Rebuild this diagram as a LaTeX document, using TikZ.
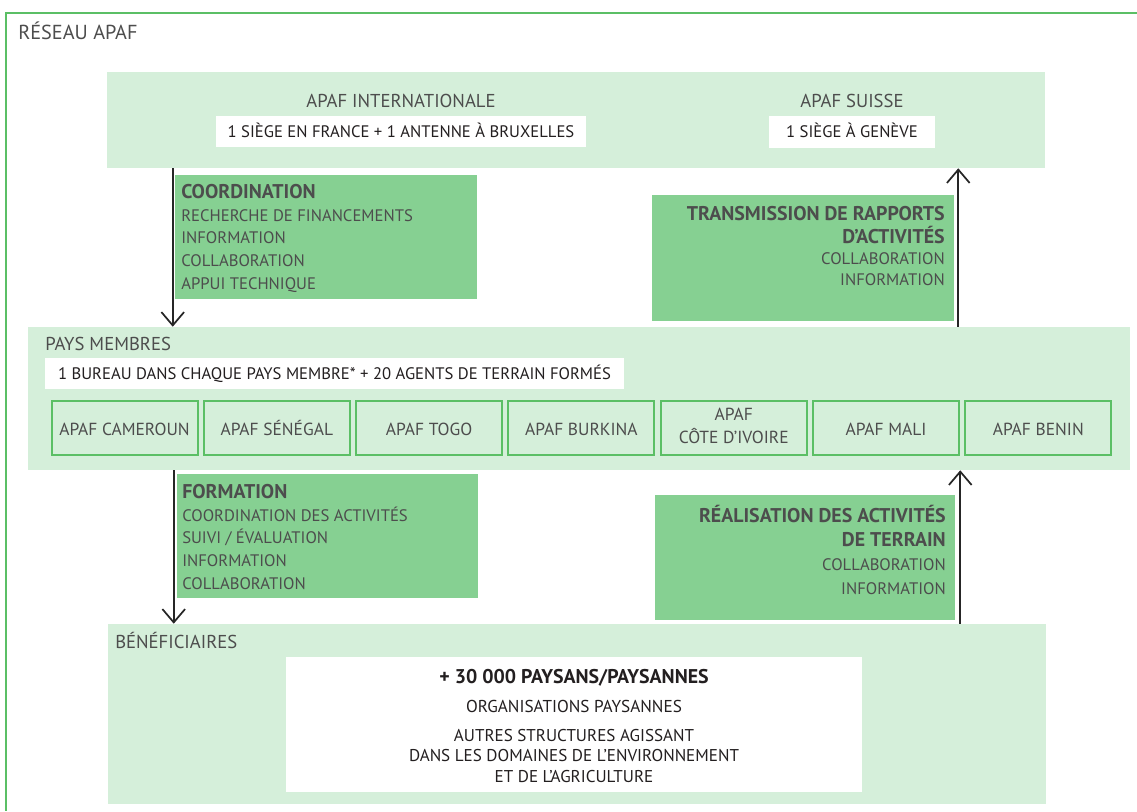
\documentclass[tikz,border=0pt]{standalone}
\usepackage{fontspec}
\setmainfont{PT Sans}
\usepackage{tikz}
\usetikzlibrary{arrows.meta}
\definecolor{vertclair}{HTML}{D5EFDA}
\definecolor{vertmoyen}{HTML}{86D092}
\definecolor{vertbord}{HTML}{5BBF65}
\definecolor{gristexte}{HTML}{4D4D4D}
\definecolor{noirtexte}{HTML}{231F20}
\newcommand{\px}[1]{#1*0.75pt}
\newcommand{\corps}{\fontsize{12.5}{17}\selectfont}
\newcommand{\titre}{\fontsize{14}{17}\selectfont}
\newcommand{\gras}[1]{{\fontsize{14.9}{17}\selectfont\bfseries #1}}

\begin{document}
\begin{tikzpicture}[x=0.75pt,y=-0.75pt]
					\tikzstyle{every node}+=[inner sep=0pt, text=gristexte, font=\corps]
					\tikzstyle{zone}=[fill=vertclair]
					\tikzstyle{blanc}=[fill=white, text=noirtexte, text height=\px{11.5}, text depth=0pt]
					\tikzstyle{action}=[fill=vertmoyen]
					\tikzstyle{pays}=[draw=vertbord, line width=1.5pt, fill=vertclair, minimum width=\px{146}, minimum height=\px{54}, align=center, font=\fontsize{13.1}{17}\selectfont]
					\tikzstyle{fleche}=[draw=black!85, line width=1.5pt, -{Straight Barb[length=10pt, width=17pt, line width=1.3pt]}]
					\useasboundingbox (0,0) rectangle (1137,811);
					\draw [vertbord, line width=1.6pt] (1137,13) -- (6,13) -- (6,811);
					\node [anchor=base west, font=\fontsize{15.2}{17}\selectfont] (reseau) at (18,39.5) {RÉSEAU APAF};
					\node [zone, minimum width=\px{938}, minimum height=\px{96}] (monde) at (576,120) {};
					\node [anchor=base, font=\titre] (intl) at (401,107) {APAF INTERNATIONALE};
					\node [blanc, minimum width=\px{370}, minimum height=\px{31}] (france) at (401,131.5) {1 SIÈGE EN FRANCE + 1 ANTENNE À BRUXELLES};
					\node [anchor=base, font=\titre] (suisse) at (852,107) {APAF SUISSE};
					\node [blanc, minimum width=\px{166}, minimum height=\px{32}] (geneve) at (852,132) {1 SIÈGE À GENÈVE};
					\node [action, minimum width=\px{302}, minimum height=\px{124}] (coord) at (326,237) {};
					\node [anchor=north west, align=left] (coordt) at (181,184) {\gras{COORDINATION}\\RECHERCHE DE FINANCEMENTS\\INFORMATION\\COLLABORATION\\APPUI TECHNIQUE};
					\node [action, minimum width=\px{302}, minimum height=\px{126}] (trans) at (803,258) {};
					\node [anchor=north east, align=right, font=\fontsize{12.5}{16}\selectfont] (transt) at (945,206) {\gras{TRANSMISSION DE RAPPORTS}\\[1pt]\gras{D’ACTIVITÉS}\\COLLABORATION\\INFORMATION};
					\node [zone, minimum width=\px{1102}, minimum height=\px{143}] (membres) at (579,398.5) {};
					\node [anchor=base west, font=\titre] (paysm) at (45,350) {PAYS MEMBRES};
					\node [blanc, minimum width=\px{579}, minimum height=\px{31}] (bureau) at (334.5,373.5) {1 BUREAU DANS CHAQUE PAYS MEMBRE* + 20 AGENTS DE TERRAIN FORMÉS};
					\foreach \nom/\dy [count=\i from 0] in {APAF CAMEROUN/0, APAF SÉNÉGAL/0, APAF TOGO/0, APAF BURKINA/0, APAF\\CÔTE D’IVOIRE/4.5, APAF MALI/0, APAF BENIN/0}
						\node [pays] (p\i) at (124.5+152.3*\i,427.5) {\vphantom{É}\nom\rule[-\dy pt]{0pt}{0pt}};
					\node [action, minimum width=\px{301}, minimum height=\px{124}] (form) at (327.5,536) {};
					\node [anchor=north west, align=left] (formt) at (182,484) {\gras{FORMATION}\\COORDINATION DES ACTIVITÉS\\SUIVI / ÉVALUATION\\INFORMATION\\COLLABORATION};
					\node [action, minimum width=\px{300}, minimum height=\px{125}] (real) at (805,557.5) {};
					\node [anchor=north east, align=right, font=\fontsize{12.5}{18}\selectfont] (realt) at (946,505) {\gras{RÉALISATION DES ACTIVITÉS}\\\gras{DE TERRAIN}\\COLLABORATION\\INFORMATION};
					\node [zone, minimum width=\px{938}, minimum height=\px{180}] (benef) at (577,714) {};
					\node [anchor=base west, font=\titre] (beneft) at (115,648) {BÉNÉFICIAIRES};
					\node [fill=white, minimum width=\px{576}, minimum height=\px{135}] (public) at (574,724.5) {};
					\node [anchor=base, text=noirtexte, font=\fontsize{14.9}{17}\selectfont\bfseries] (paysans) at (574,683.5) {+ 30 000 PAYSANS/PAYSANNES};
					\node [anchor=base, text=noirtexte, font=\fontsize{12.9}{17}\selectfont] (orga) at (574,712) {ORGANISATIONS PAYSANNES};
					\node [anchor=north, align=center, text=noirtexte, font=\fontsize{12.8}{15.3}\selectfont] (autres) at (574,729) {AUTRES STRUCTURES AGISSANT\\DANS LES DOMAINES DE L’ENVIRONNEMENT\\ET DE L’AGRICULTURE};
					\coordinate (f1) at ([xshift=-\px{2}]coord.west);
					\coordinate (f2) at ([xshift=\px{4}]trans.east);
					\coordinate (f3) at ([xshift=-\px{3}]form.west);
					\coordinate (f4) at ([xshift=\px{5}]real.east);
					\draw [fleche] (f1 |- monde.south) -- (f1 |- membres.north);
					\draw [fleche] (f2 |- membres.north) -- (f2 |- monde.south);
					\draw [fleche] (f3 |- membres.south) -- (f3 |- benef.north);
					\draw [fleche] (f4 |- benef.north) -- (f4 |- membres.south);
				\end{tikzpicture}
\end{document}
